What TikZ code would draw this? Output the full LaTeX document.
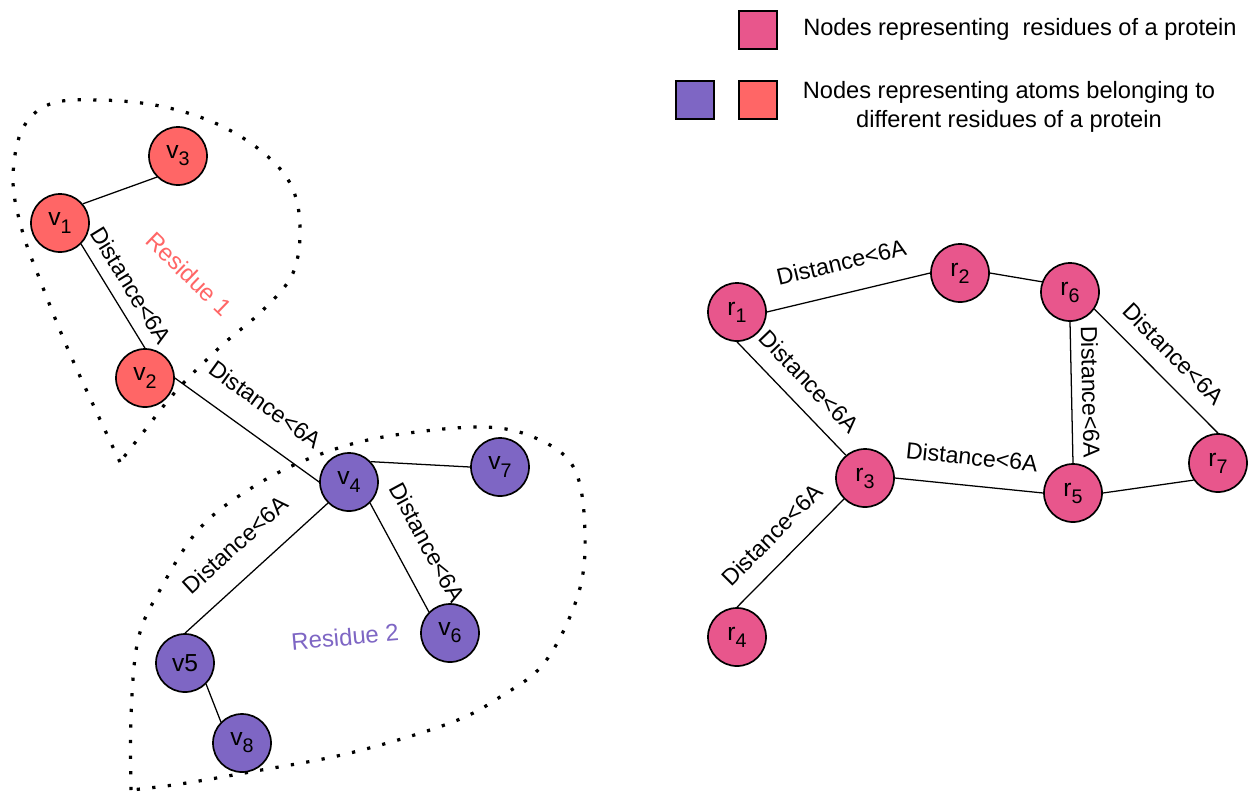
\documentclass[tikz,border=0pt]{standalone}
\usepackage{fontspec}
\setmainfont{Liberation Sans}
\usepackage{tikz}
\usetikzlibrary{calc,shapes,arrows,fit,positioning}

\definecolor{atomred}{HTML}{FF6666}
\definecolor{atompurple}{HTML}{7E66C4}
\definecolor{respink}{HTML}{E8568C}

\newcommand{\nodelab}[2]{#1\raisebox{-5pt}{\fontsize{14}{14}\selectfont #2}}

\tikzset{
  atom/.style={circle, draw=black, line width=1.2pt, minimum size=1.45cm, font=\fontsize{17.5}{17.5}\selectfont},
  link/.style={black, line width=0.9pt},
  dist/.style={sloped, font=\fontsize{16.5}{16.5}\selectfont},
  resline/.style={black, line width=2.3pt, dash pattern=on 2.3pt off 8.8pt},
  reslabel/.style={font=\fontsize{17}{17}\selectfont},
  key/.style={draw=black, line width=1.2pt, minimum size=0.95cm},
  legend/.style={font=\fontsize{16.8}{20.5}\selectfont}
}

\begin{document}
\begin{tikzpicture}[x=0.025cm, y=0.025cm]
	\tikzstyle{every node}+=[inner sep=0pt]
	\useasboundingbox (0,0) rectangle (1248,-792);
	% dotted residue outlines
	\draw [resline] plot [smooth, tension=0.6] coordinates {(120,-462) (97,-413) (67,-347) (40,-280) (22,-230) (13,-180) (22,-130) (50,-104) (100,-100) (160,-106) (215,-123) (260,-150) (290,-183) (300,-225) (293,-273) (263,-310) (220,-347) (177,-390) (145,-430) (120,-462)};
	\draw [resline] plot [smooth, tension=0.6] coordinates {(131,-790) (131,-717) (138,-640) (160,-590) (200,-528) (253,-487) (313,-457) (383,-437) (483,-427) (540,-440) (575,-470) (585,-533) (578,-595) (545,-662) (500,-697) (450,-723) (350,-753) (250,-772) (180,-784) (131,-790)};
	\node [reslabel, text=atomred, rotate=-44] (res1) at (189,-274) {Residue 1};
	\node [reslabel, text=atompurple, rotate=5] (res2) at (345,-637) {Residue 2};
	% atom graph
	\node [atom, fill=atomred] (v1) at (60,-223) {\nodelab{v}{1}};
	\node [atom, fill=atomred] (v2) at (145,-378) {\nodelab{v}{2}};
	\node [atom, fill=atomred] (v3) at (178,-156) {\nodelab{v}{3}};
	\node [atom, fill=atompurple] (v4) at (349,-482) {\nodelab{v}{4}};
	\node [atom, fill=atompurple] (v5) at (185,-663) {v5};
	\node [atom, fill=atompurple] (v6) at (450,-633) {\nodelab{v}{6}};
	\node [atom, fill=atompurple] (v7) at (500,-467) {\nodelab{v}{7}};
	\node [atom, fill=atompurple] (v8) at (242,-743) {\nodelab{v}{8}};
	\draw [link] (v1.40) -- (v3.225);
	\draw [link] (v1.315) -- node [dist, above=8.5pt] {Distance<6A} (v2.north);
	\draw [link] (v2.east) -- node [dist, above=16pt] {Distance<6A} (v4.west);
	\draw [link] (v4.43) -- (v7.west);
	\draw [link] (v4.225) -- node [dist, above=16pt] {Distance<6A} (v5.north);
	\draw [link] (v4.315) -- node [dist, above=16pt] {Distance<6A} (v6.135);
	\draw [link] (v5.315) -- (v8.135);
	% residue graph
	\node [atom, fill=respink] (r1) at (737,-312) {\nodelab{r}{1}};
	\node [atom, fill=respink] (r2) at (960,-273) {\nodelab{r}{2}};
	\node [atom, fill=respink] (r3) at (865,-478) {\nodelab{r}{3}};
	\node [atom, fill=respink] (r4) at (737,-637) {\nodelab{r}{4}};
	\node [atom, fill=respink] (r5) at (1073,-493) {\nodelab{r}{5}};
	\node [atom, fill=respink] (r6) at (1070,-292) {\nodelab{r}{6}};
	\node [atom, fill=respink] (r7) at (1218,-463) {\nodelab{r}{7}};
	\draw [link] (r1.east) -- node [dist, above=15.5pt] {Distance<6A} (r2.west);
	\draw [link] (r2.east) -- (r6.160);
	\draw [link] (r1.south) -- node [dist, above=11pt] {Distance<6A} (r3.130);
	\draw [link] (r3.east) -- node [dist, above=14pt] {Distance<6A} (r5.west);
	\draw [link] (r6.south) -- node [dist, above=7pt] {Distance<6A} (r5.north);
	\draw [link] (r6.325) -- node [dist, above=11pt] {Distance<6A} (r7.north);
	\draw [link] (r5.east) -- (r7.215);
	\draw [link] (r3.225) -- node [dist, above=12pt] {Distance<6A} (r4.north);
	% legend
	\node [key, fill=respink] (keyres) at (758,-30) {};
	\node [key, fill=atompurple] (keypurple) at (695,-100) {};
	\node [key, fill=atomred] (keyred) at (758,-100) {};
	\node [legend, anchor=base west] (legres) at (803,-35) {Nodes representing~ residues of a protein};
	\node [legend, align=center, anchor=north] (legatom) at (1009,-81) {Nodes representing atoms belonging to\\different residues of a protein};
\end{tikzpicture}
\end{document}
